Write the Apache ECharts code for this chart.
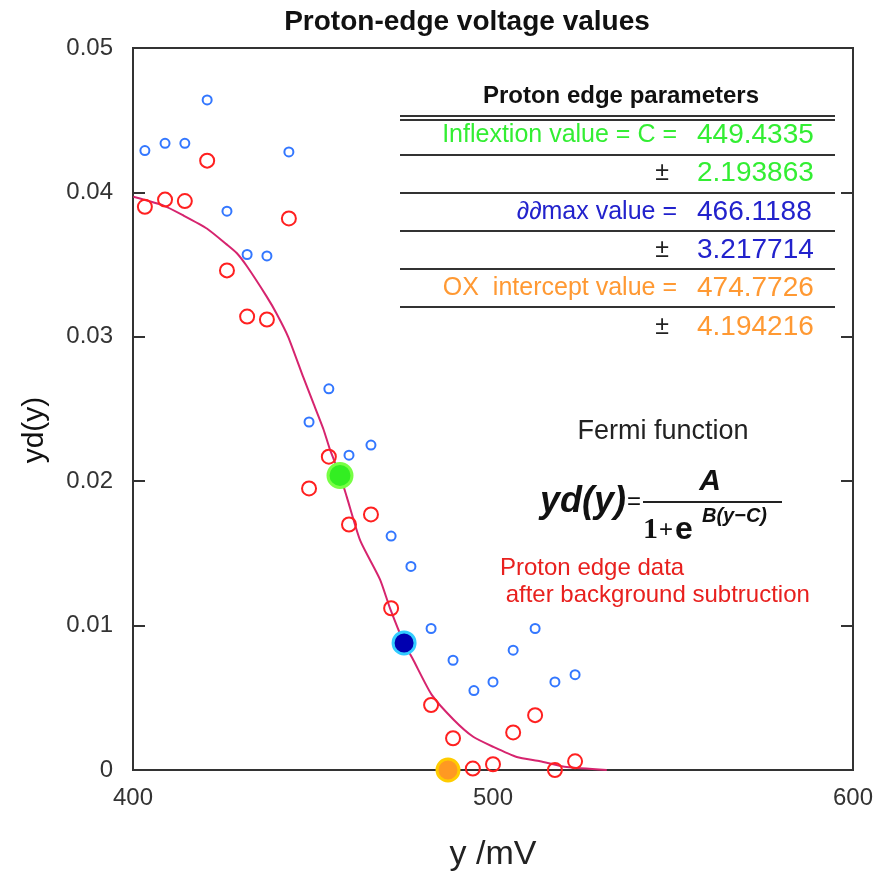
<!DOCTYPE html>
<html>
<head>
<meta charset="utf-8">
<script src="https://cdn.jsdelivr.net/npm/echarts@6/dist/echarts.min.js"></script>
<style>html,body{margin:0;padding:0;background:#fff;overflow:hidden;}#c{width:879px;height:875px;}</style>
</head>
<body>
<div id="c"></div>
<script>
// ---- data ----
const xTicks = [400, 500, 600];
const yTicks = [0, 0.01, 0.02, 0.03, 0.04, 0.05];

const redX = [403.3, 408.9, 414.4, 420.6, 426.1, 431.7, 437.2, 443.3, 448.9, 454.4, 460.0, 466.1, 471.7, 482.8, 488.9, 494.4, 500.0, 505.6, 511.7, 517.2, 522.8];
const redY = [0.0390, 0.0395, 0.0394, 0.0422, 0.0346, 0.0314, 0.0312, 0.0382, 0.0195, 0.0217, 0.0170, 0.0177, 0.0112, 0.0045, 0.0022, 0.0001, 0.0004, 0.0026, 0.0038, 0.0000, 0.0006];

const blueX = [403.3, 408.9, 414.4, 420.6, 426.1, 431.7, 437.2, 443.3, 448.9, 454.4, 460.0, 466.1, 471.7, 477.2, 482.8, 488.9, 494.7, 500.0, 505.6, 511.7, 517.2, 522.8];
const blueY = [0.0429, 0.0434, 0.0434, 0.0464, 0.0387, 0.0357, 0.0356, 0.0428, 0.0241, 0.0264, 0.0218, 0.0225, 0.0162, 0.0141, 0.0098, 0.0076, 0.0055, 0.0061, 0.0083, 0.0098, 0.0061, 0.0066];

const fitX = [400.1, 408.4, 414.0, 420.5, 426.0, 428.8, 431.6, 437.1, 439.9, 443.1, 447.3, 450.1, 452.9, 454.7, 457.5, 459.4, 463.1, 468.6, 471.4, 475.3, 477.9, 483.0, 489.0, 494.5, 500.1, 506.6, 513.1, 520.5, 531.6];
const fitY = [0.0397, 0.0391, 0.0384, 0.0375, 0.0364, 0.0358, 0.0349, 0.0328, 0.0316, 0.0300, 0.0272, 0.0254, 0.0236, 0.0222, 0.0204, 0.0189, 0.0159, 0.0132, 0.0112, 0.0088, 0.0076, 0.0052, 0.0035, 0.0023, 0.0016, 0.0009, 0.0006, 0.0002, 0.0000];

const inflexPoint = [457.5, 0.0204];
const ddmaxPoint = [475.3, 0.0088];
const interceptPoint = [487.5, 0.0];

const tableTitle = 'Proton edge parameters';
const tableLabels = ['Inflextion value = C =', '±', '∂∂max value =', '±', 'OX  intercept value =', '±'];
const tableValues = ['449.4335', '2.193863', '466.1188', '3.217714', '474.7726', '4.194216'];

const zip = (a, b) => a.map((v, i) => [v, b[i]]);

// ---- chart ----
const chart = echarts.init(document.getElementById('c'), null, {renderer: 'canvas', width: 879, height: 875});
const FONT = '"Liberation Sans", Arial, sans-serif';
const colGreen = '#33ee33', colBlue = '#2222cc', colOrange = '#ff9933';
const rowColors = [colGreen, colGreen, colBlue, colBlue, colOrange, colOrange];
const rowY = [135, 173, 212, 250, 288, 327];
const lineY = [155, 193, 231, 269, 307];

const graphic = [];
graphic.push({type: 'text', x: 467, y: 22, style: {text: 'Proton-edge voltage values', font: 'bold 28px ' + FONT, fill: '#111', textAlign: 'center', textVerticalAlign: 'middle'}});
graphic.push({type: 'text', x: 621, y: 96, style: {text: tableTitle, font: 'bold 24px ' + FONT, fill: '#111', textAlign: 'center', textVerticalAlign: 'middle'}});
graphic.push({type: 'line', shape: {x1: 400, y1: 116, x2: 835, y2: 116}, style: {stroke: '#333', lineWidth: 2}});
graphic.push({type: 'line', shape: {x1: 400, y1: 120, x2: 835, y2: 120}, style: {stroke: '#333', lineWidth: 2}});
lineY.forEach(y => graphic.push({type: 'line', shape: {x1: 400, y1: y, x2: 835, y2: y}, style: {stroke: '#333', lineWidth: 2}}));
tableLabels.forEach((t, i) => {
  const isPm = t === '±';
  graphic.push({type: 'text', x: isPm ? 669 : 677, y: rowY[i], style: {text: t, font: '25px ' + FONT, fill: isPm ? '#222' : rowColors[i], textAlign: 'right', textVerticalAlign: 'middle'}});
  graphic.push({type: 'text', x: 697, y: rowY[i], style: {text: tableValues[i], font: '28px ' + FONT, fill: rowColors[i], textAlign: 'left', textVerticalAlign: 'middle'}});
});
graphic.push({type: 'text', x: 663, y: 432, style: {text: 'Fermi function', font: '27px ' + FONT, fill: '#222', textAlign: 'center', textVerticalAlign: 'middle'}});
// formula
graphic.push({type: 'text', x: 626, y: 502, style: {text: 'yd(y)', font: 'italic bold 36px ' + FONT, fill: '#111', textAlign: 'right', textVerticalAlign: 'middle'}});
graphic.push({type: 'text', x: 634, y: 502, style: {text: '=', font: '24px ' + FONT, fill: '#111', textAlign: 'center', textVerticalAlign: 'middle'}});
graphic.push({type: 'line', shape: {x1: 643, y1: 502, x2: 782, y2: 502}, style: {stroke: '#222', lineWidth: 2}});
graphic.push({type: 'text', x: 710, y: 482, style: {text: 'A', font: 'italic bold 30px ' + FONT, fill: '#111', textAlign: 'center', textVerticalAlign: 'middle'}});
graphic.push({type: 'text', x: 643, y: 530, style: {text: '1', font: 'bold 30px "Liberation Serif", serif', fill: '#111', textAlign: 'left', textVerticalAlign: 'middle'}});
graphic.push({type: 'text', x: 659, y: 530, style: {text: '+', font: '24px ' + FONT, fill: '#111', textAlign: 'left', textVerticalAlign: 'middle'}});
graphic.push({type: 'text', x: 675, y: 530, style: {text: 'e', font: 'bold 32px ' + FONT, fill: '#111', textAlign: 'left', textVerticalAlign: 'middle'}});
graphic.push({type: 'text', x: 702, y: 516, style: {text: 'B(y−C)', font: 'italic bold 20px ' + FONT, fill: '#111', textAlign: 'left', textVerticalAlign: 'middle'}});
graphic.push({type: 'text', x: 500, y: 568, style: {text: 'Proton edge data', font: '24px ' + FONT, fill: '#e8201e', textAlign: 'left', textVerticalAlign: 'middle'}});
graphic.push({type: 'text', x: 499, y: 595, style: {text: ' after background subtruction', font: '24px ' + FONT, fill: '#e8201e', textAlign: 'left', textVerticalAlign: 'middle'}});
// axis names
graphic.push({type: 'text', x: 35, y: 430, rotation: Math.PI / 2, style: {text: 'yd(y)', font: '30px ' + FONT, fill: '#111', textAlign: 'center', textVerticalAlign: 'middle'}});
graphic.push({type: 'text', x: 493, y: 855, style: {text: 'y /mV', font: '34px ' + FONT, fill: '#222', textAlign: 'center', textVerticalAlign: 'middle'}});

const bigDot = (pt, fill, border, size) => ({
  type: 'scatter', data: [pt], symbol: 'circle', symbolSize: size, z: 5,
  itemStyle: {color: fill, borderColor: border, borderWidth: 3, opacity: 1}, silent: true
});

chart.setOption({
  animation: false,
  backgroundColor: '#fff',
  grid: {left: 133, width: 720, top: 48, height: 722, show: true, borderColor: '#333', borderWidth: 2, backgroundColor: 'transparent'},
  xAxis: {
    type: 'value', min: xTicks[0], max: xTicks[xTicks.length - 1], interval: 100,
    axisLine: {show: true, lineStyle: {color: '#333', width: 2}},
    axisTick: {show: false}, splitLine: {show: false},
    axisLabel: {fontSize: 24, color: '#333', margin: 16, fontFamily: FONT}
  },
  yAxis: [{
    type: 'value', min: yTicks[0], max: yTicks[yTicks.length - 1], interval: 0.01,
    axisLine: {show: true, lineStyle: {color: '#333', width: 2}},
    axisTick: {show: true, inside: true, length: 12, lineStyle: {color: '#333', width: 2}},
    splitLine: {show: false},
    axisLabel: {fontSize: 24, color: '#333', margin: 20, fontFamily: FONT}
  }, {
    type: 'value', position: 'right', min: yTicks[0], max: yTicks[yTicks.length - 1], interval: 0.01,
    axisLine: {show: true, lineStyle: {color: '#333', width: 2}},
    axisTick: {show: true, inside: true, length: 12, lineStyle: {color: '#333', width: 2}},
    axisLabel: {show: false}, splitLine: {show: false}
  }],
  graphic: graphic,
  series: [
    {type: 'line', data: zip(fitX, fitY), showSymbol: false, smooth: 0.2, z: 2,
     lineStyle: {color: '#d6246e', width: 2}, silent: true},
    {type: 'scatter', data: zip(blueX, blueY), symbol: 'circle', symbolSize: 9, z: 3,
     itemStyle: {color: 'rgba(0,0,0,0)', borderColor: '#3377ff', borderWidth: 2, opacity: 1}},
    {type: 'scatter', data: zip(redX, redY), symbol: 'circle', symbolSize: 14, z: 3,
     itemStyle: {color: 'rgba(0,0,0,0)', borderColor: '#ff2020', borderWidth: 2, opacity: 1}},
    bigDot(inflexPoint, '#33ee22', '#77ff44', 24),
    bigDot(ddmaxPoint, '#0000b0', '#33ccff', 22),
    bigDot(interceptPoint, '#ff9922', '#ffcc00', 22)
  ]
});
</script>
</body>
</html>
